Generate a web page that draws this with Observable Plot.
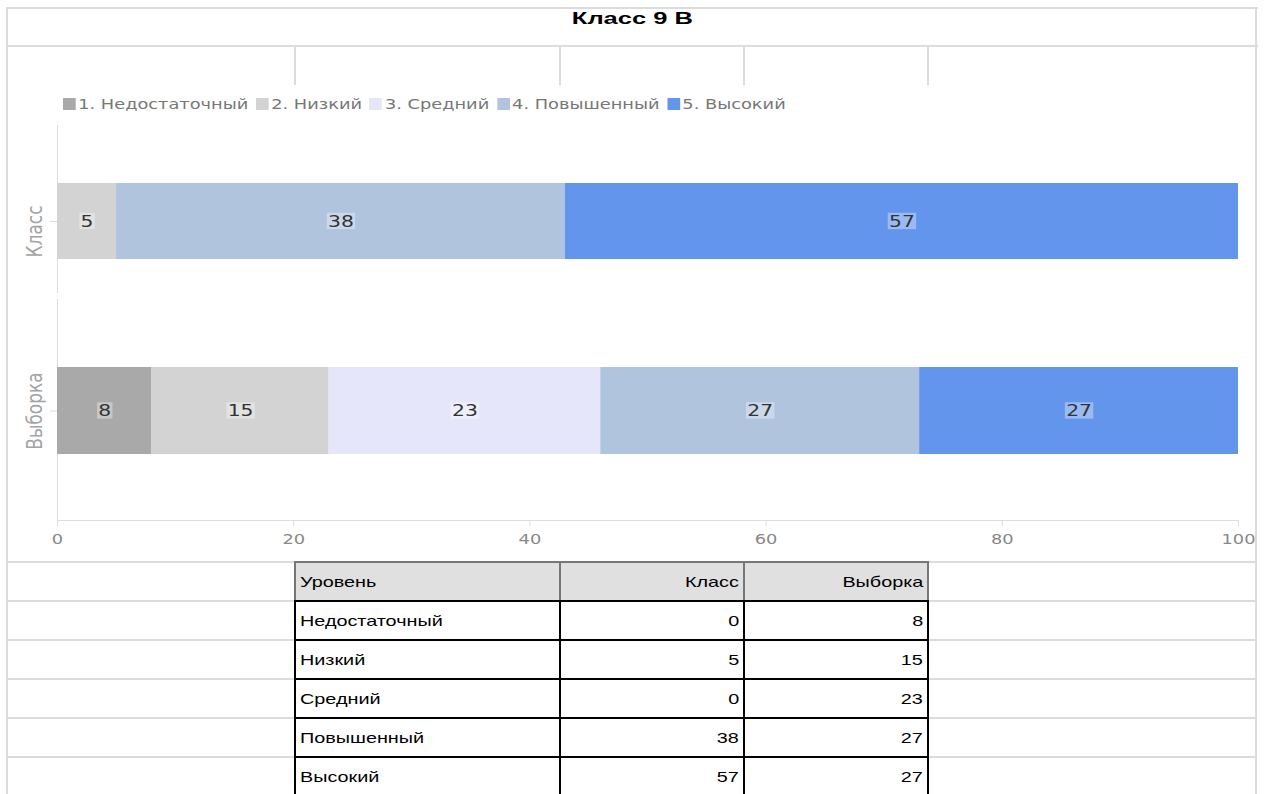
<!DOCTYPE html>
<html>
<head>
<meta charset="utf-8">
<script src="https://cdn.jsdelivr.net/npm/d3@7"></script>
<script src="https://cdn.jsdelivr.net/npm/@observablehq/plot@0.6"></script>
<style>
  body { margin: 0; background: #fff; }
  #page { position: relative; width: 1269px; height: 794px; overflow: hidden; background: #fff; }
  .gl { position: absolute; background: #dcdcdc; z-index: 5; }
  #title { position: absolute; left: 8px; top: 9px; width: 1248px; height: 37px; line-height: 37px; text-align: center;
           font: bold 17px "Liberation Sans", Arial, sans-serif; color: #000; z-index: 6; }
  #title span { display: inline-block; transform: scaleX(1.5); transform-origin: center; }
  #legend { position: absolute; left: 63px; top: 96px; font: 14px "DejaVu Sans", sans-serif; color: #777; white-space: nowrap; z-index: 6;
            transform: scaleX(1.27); transform-origin: left center; }
  #legend span.item { display: inline-flex; align-items: center; margin-right: 6px; }
  #legend span.sw { display: inline-block; width: 10px; height: 12px; margin-right: 2px; }
  .plotbox { position: absolute; left: 0; z-index: 2; }
  .cell { position: absolute; box-sizing: border-box; font: 15px "Liberation Sans", Arial, sans-serif; color: #000;
          line-height: 37px; padding: 0 4px; white-space: nowrap; z-index: 7; }
  .cell span { display: inline-block; transform: scaleX(1.32); }
</style>
</head>
<body>
<div id="page">
  <div id="title"></div>
  <div id="legend"></div>
  <div id="p1" class="plotbox" style="top:115px"></div>
  <div id="p2" class="plotbox" style="top:293px"></div>
</div>
<script>
// ---- data ----
const chartTitle = "Класс 9 В";
const groups = ["Класс", "Выборка"];
const levels = ["Недостаточный", "Низкий", "Средний", "Повышенный", "Высокий"];
const legendLabels = ["1. Недостаточный", "2. Низкий", "3. Средний", "4. Повышенный", "5. Высокий"];
const classValues = [0, 5, 0, 38, 57];
const sampleValues = [8, 15, 23, 27, 27];
const levelColors = ["#a9a9a9", "#d3d3d3", "#e6e6fa", "#b0c4de", "#6495ed"];
const xTicks = [0, 20, 40, 60, 80, 100];
const tableHeader = ["Уровень", "Класс", "Выборка"];

// ---- page furniture ----
const page = document.getElementById("page");
const ts = document.createElement("span");
ts.textContent = chartTitle;
document.getElementById("title").appendChild(ts);

function line(x, y, w, h) {
  const d = document.createElement("div");
  d.className = "gl";
  Object.assign(d.style, {left: x + "px", top: y + "px", width: w + "px", height: h + "px"});
  page.appendChild(d);
}
// spreadsheet grid
line(6, 7, 1252, 2);
line(6, 45, 1252, 2);
line(6, 7, 2, 790);
line(1255, 7, 2, 790);
[295, 560, 744, 928].forEach(x => line(x - 1, 46, 2, 39));
const rowY = [562, 601, 640, 679, 718, 757];
rowY.forEach(y => { line(7, y - 1, 288, 2); line(928, y - 1, 328, 2); });

// legend
const legend = document.getElementById("legend");
legendLabels.forEach((lab, i) => {
  const it = document.createElement("span");
  it.className = "item";
  const sw = document.createElement("span");
  sw.className = "sw";
  sw.style.background = levelColors[i];
  it.appendChild(sw);
  it.appendChild(document.createTextNode(lab));
  legend.appendChild(it);
});

// ---- chart ----
const rows = [];
groups.forEach((g, gi) => {
  const vals = gi === 0 ? classValues : sampleValues;
  legendLabels.forEach((lab, i) => rows.push({group: g, level: lab, value: vals[i]}));
});

function makePlot(group, cfg) {
  const data = rows.filter(d => d.group === group && d.value > 0);
  const marks = [
    Plot.ruleX([0], {stroke: "#dddddd"}),
    Plot.axisY({tickSize: 7, tickFormat: () => "", stroke: "#dddddd", label: null}),
    Plot.barX(data, Plot.stackX({x: "value", y: "group", fill: "level"})),
    Plot.text(data, Plot.stackX({x: "value", y: "group", text: d => String(d.value),
      fill: "#333", fontSize: 16, fontFamily: "DejaVu Sans"})),
    Plot.text([group], {y: d => d, text: d => d, frameAnchor: "left", dx: -22, dy: cfg.labelDy, rotate: -90,
      textAnchor: "middle", lineAnchor: "middle", fill: "#a3a3a3", fontSize: 17, fontFamily: "DejaVu Sans"})
  ];
  if (cfg.showX) {
    marks.push(Plot.frame({anchor: "bottom", stroke: "#dddddd"}));
    marks.push(Plot.axisX(xTicks, {tickSize: 6, tickPadding: 8, stroke: "#dddddd", fill: "#888",
      fontSize: 14, fontFamily: "DejaVu Sans", label: null}));
  }
  return Plot.plot({
    width: 1269,
    height: cfg.height,
    marginLeft: 57,
    marginRight: 31,
    marginTop: cfg.marginTop,
    marginBottom: cfg.marginBottom,
    style: {background: "transparent", fontFamily: "DejaVu Sans"},
    x: {domain: [0, 100], axis: null},
    y: {domain: [group], paddingInner: 0, paddingOuter: cfg.po, align: cfg.align, axis: null},
    color: {domain: legendLabels, range: levelColors},
    marks
  });
}

// the reference chart is rendered horizontally stretched; widen every text glyph the same way
function stretchText(svg, k) {
  svg.querySelectorAll("text").forEach(t => {
    const tr = t.getAttribute("transform") || "";
    if (/rotate/.test(tr)) t.setAttribute("transform", tr.replace(/rotate/, `scale(${k},1) rotate`));
    else t.setAttribute("transform", (tr + ` scale(${k},1)`).trim());
  });
}

function addLabelBoxes(svg) {
  svg.querySelectorAll('g[aria-label="text"] text').forEach(t => {
    if (!/^\d+$/.test(t.textContent)) return;
    const b = t.getBBox();
    const r = document.createElementNS("http://www.w3.org/2000/svg", "rect");
    r.setAttribute("x", b.x - 1);
    r.setAttribute("y", b.y + 1);
    r.setAttribute("width", b.width + 2);
    r.setAttribute("height", b.height - 2);
    r.setAttribute("fill", "#fff");
    r.setAttribute("fill-opacity", "0.35");
    const tr = t.getAttribute("transform");
    if (tr) r.setAttribute("transform", tr);
    t.parentNode.insertBefore(r, t);
  });
}

const K = 1.27;
const p1 = makePlot("Класс", {height: 178, marginTop: 10, marginBottom: 0, po: 0.605, align: 0.63, labelDy: 10, showX: false});
document.getElementById("p1").appendChild(p1);
stretchText(p1, K);
addLabelBoxes(p1);
const p2 = makePlot("Выборка", {height: 267, marginTop: 6, marginBottom: 40, po: 0.756, align: 0.504, labelDy: 0, showX: true});
document.getElementById("p2").appendChild(p2);
stretchText(p2, K);
addLabelBoxes(p2);

// ---- table ----
const colX = [295, 560, 744, 928];
const tableRows = [tableHeader].concat(levels.map((lv, i) => [lv, String(classValues[i]), String(sampleValues[i])]));
tableRows.forEach((r, ri) => {
  r.forEach((txt, ci) => {
    const c = document.createElement("div");
    c.className = "cell";
    const head = ri === 0;
    const col = head ? "#777" : "#000";
    Object.assign(c.style, {
      left: (colX[ci] - 1) + "px",
      top: (rowY[ri] - 1) + "px",
      width: (colX[ci + 1] - colX[ci] + (ci === 2 ? 2 : 0)) + "px",
      height: "41px",
      borderLeft: "2px solid " + col,
      borderTop: "2px solid " + col,
      borderRight: ci === 2 ? "2px solid " + col : "none",
      background: head ? "#e0e0e0" : "#fff",
      textAlign: ci === 0 ? "left" : "right"
    });
    const s = document.createElement("span");
    s.textContent = txt;
    s.style.transformOrigin = ci === 0 ? "left center" : "right center";
    c.appendChild(s);
    page.appendChild(c);
  });
});
</script>
</body>
</html>
